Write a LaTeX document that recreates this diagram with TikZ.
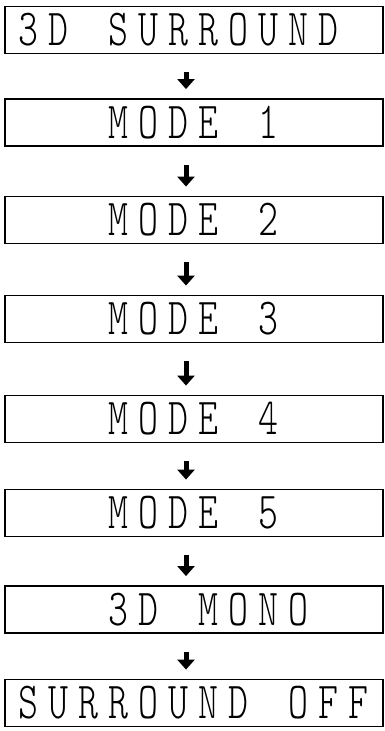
\documentclass[tikz,border=0pt]{standalone}
\usepackage{fontspec}
\usetikzlibrary{arrows.meta, positioning}
\newfontfamily\lcdfont[FakeStretch=0.73]{lmmonolt10-regular.otf}
\newlength\lcdcell
\setlength\lcdcell{30pt}
\newcommand\lcdskip[1]{\hspace*{#1\lcdcell}}
% one character per display cell
\ExplSyntaxOn
\NewDocumentCommand\lcdtext{m}{\str_map_inline:nn{#1}{\makebox[\lcdcell]{##1}}}
\ExplSyntaxOff

\begin{document}
\begin{tikzpicture}[x=1pt, y=-1pt,
    panel/.style={draw, line width=1.8pt, minimum width=378pt, minimum height=47pt, text width=362pt, inner xsep=8pt, align=left, font=\lcdfont\fontsize{52}{52}\selectfont},
    arrow/.style={-{Triangle[length=10pt, width=17pt]}, line width=5pt, shorten <=18pt, shorten >=9pt}
]
\useasboundingbox (0,0) rectangle (385,731);
\node[panel] (surr) at (194, 30) {\lcdtext{3D SURROUND}};
\node[panel] (mode1) at (194, 122.5) {\lcdskip{3}\lcdtext{MODE 1}};
\node[panel] (mode2) at (194, 220) {\lcdskip{3}\lcdtext{MODE 2}};
\node[panel] (mode3) at (194, 319) {\lcdskip{3}\lcdtext{MODE 3}};
\node[panel] (mode4) at (194, 419) {\lcdskip{3}\lcdtext{MODE 4}};
\node[panel] (mode5) at (194, 513) {\lcdskip{3}\lcdtext{MODE 5}};
\node[panel] (mono) at (194, 609.5) {\lcdskip{3}\lcdtext{3D MONO}};
\node[panel] (off) at (194, 703) {\lcdtext{SURROUND OFF}};

\draw[arrow] ([xshift=-8pt]surr.south) -- ([xshift=-8pt]mode1.north);
\draw[arrow] ([xshift=-8pt]mode1.south) -- ([xshift=-8pt]mode2.north);
\draw[arrow] ([xshift=-8pt]mode2.south) -- ([xshift=-8pt]mode3.north);
\draw[arrow] ([xshift=-8pt]mode3.south) -- ([xshift=-8pt]mode4.north);
\draw[arrow] ([xshift=-8pt]mode4.south) -- ([xshift=-8pt]mode5.north);
\draw[arrow] ([xshift=-8pt]mode5.south) -- ([xshift=-8pt]mono.north);
\draw[arrow] ([xshift=-8pt]mono.south) -- ([xshift=-8pt]off.north);
\end{tikzpicture}
\end{document}
